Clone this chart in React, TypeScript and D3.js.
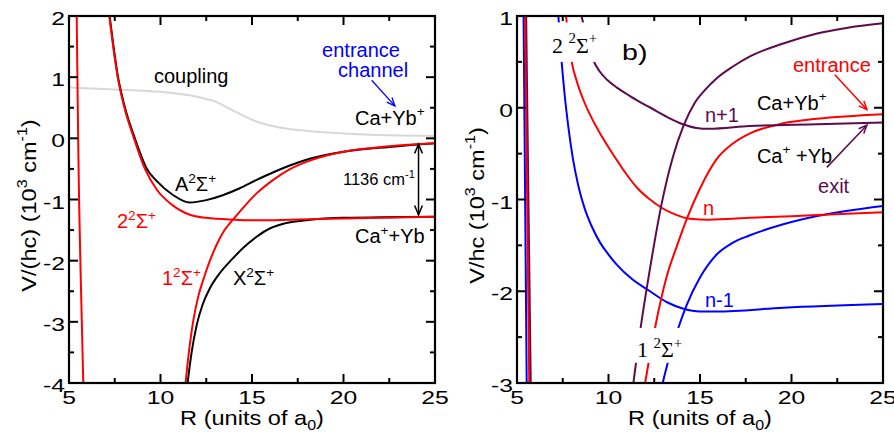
import React from 'react';
import * as d3 from 'd3';

// ---------- data (R in a0, V in 10^3 cm^-1) ----------
const xTicksMajor = [5, 10, 15, 20, 25];
const xTicksMinor = [7.5, 12.5, 17.5, 22.5];
const leftYTicks = [-4, -3, -2, -1, 0, 1, 2];
const rightYTicks = [-3, -2, -1, 0, 1];

// left panel
const aR = [7.22, 7.68, 8.06, 8.6, 9.26, 9.8, 10.7, 11.6, 12.5, 13.4, 14.3, 15.25, 16.2, 17.1, 18.2, 20, 22.5, 25];
const aV = [2, 1, 0.5, 0, -0.5, -0.7, -0.93, -1.05, -1.01, -0.93, -0.82, -0.68, -0.55, -0.44, -0.33, -0.22, -0.14, -0.08];
const s2R = [7.2, 7.66, 8.03, 8.55, 9.15, 9.8, 10.6, 11.6, 12.5, 14, 15.5, 17.1, 20, 25];
const s2V = [2, 1, 0.5, 0, -0.5, -0.84, -1.08, -1.25, -1.3, -1.33, -1.34, -1.33, -1.31, -1.28];
const s1R = [11.37, 11.55, 11.78, 12.05, 12.35, 12.7, 13.1, 13.5, 13.96, 14.5, 15.25, 16.2, 17.1, 18.2, 20, 22.5, 25];
const s1V = [-4.0, -3.5, -3.0, -2.6, -2.3, -2.0, -1.72, -1.5, -1.33, -1.14, -0.9, -0.67, -0.5, -0.36, -0.22, -0.13, -0.08];
const xsR = [11.48, 11.7, 11.98, 12.3, 12.7, 13.2, 13.9, 14.6, 15.25, 16.0, 16.8, 18.2, 20, 25];
const xsV = [-4.0, -3.5, -3.05, -2.72, -2.45, -2.22, -1.98, -1.77, -1.61, -1.47, -1.39, -1.33, -1.3, -1.28];
const wallR = [5.42, 5.5, 5.55, 5.62, 5.7, 5.78];
const wallV = [2, 0, -1, -2, -3, -4];
const coupR = [5, 7.5, 10, 12, 13, 14, 15.2, 16.3, 17.4, 20, 22.5, 25];
const coupV = [0.83, 0.8, 0.76, 0.68, 0.6, 0.45, 0.28, 0.19, 0.14, 0.08, 0.05, 0.04];

// right panel
const pDownR = [8.53, 8.7, 8.9, 9.15, 9.5, 9.95, 10.46, 11.0, 11.56, 12.3, 13.2, 14.07, 14.8, 15.5, 17.7, 21.4, 25];
const pDownV = [1.0, 0.85, 0.7, 0.53, 0.4, 0.3, 0.22, 0.15, 0.08, 0.0, -0.1, -0.18, -0.22, -0.23, -0.2, -0.18, -0.16];
const pUpR = [11.36, 11.72, 12.27, 12.9, 13.5, 14.09, 14.7, 15.3, 15.9, 16.8, 17.73, 19.55, 21.4, 23, 25];
const pUpV = [-3.0, -2.45, -1.75, -1.05, -0.55, -0.2, 0.05, 0.2, 0.32, 0.45, 0.56, 0.7, 0.81, 0.87, 0.92];
const rDownR = [7.68, 7.85, 7.99, 8.25, 8.62, 9.05, 9.54, 10.0, 10.45, 11.0, 11.6, 12.2, 12.9, 13.6, 14.45, 15.5, 17.73, 21.4, 25];
const rDownV = [1.0, 0.7, 0.5, 0.3, 0.09, -0.1, -0.28, -0.43, -0.57, -0.73, -0.88, -0.99, -1.09, -1.16, -1.21, -1.22, -1.2, -1.17, -1.14];
const rUpR = [12.0, 12.54, 13.18, 13.75, 14.3, 15.0, 15.91, 16.8, 17.73, 19.55, 21.4, 25];
const rUpV = [-3.0, -2.4, -1.84, -1.5, -1.2, -0.88, -0.56, -0.39, -0.28, -0.17, -0.12, -0.07];
const bDownR = [7.26, 7.44, 7.6, 7.8, 8.05, 8.35, 8.7, 9.1, 9.54, 10.0, 10.45, 11.3, 12.27, 13.2, 14.09, 15.0, 15.9, 19.55, 25];
const bDownV = [1.0, 0.5, 0.15, -0.2, -0.55, -0.85, -1.1, -1.3, -1.47, -1.6, -1.71, -1.87, -2.0, -2.12, -2.19, -2.22, -2.22, -2.18, -2.14];
const bUpR = [12.96, 13.24, 13.78, 14.27, 15.0, 15.91, 16.8, 17.73, 19.55, 21.4, 25];
const bUpV = [-3.0, -2.78, -2.42, -2.15, -1.85, -1.6, -1.47, -1.39, -1.27, -1.18, -1.07];
const bWallR = [5.36, 5.53];
const rWallR = [5.44, 5.67];
const pWallR = [5.5, 5.75];
const wallRV = [1, -3];

const RED = '#ff0000';
const BLUE = '#0000ff';
const PURPLE = '#5c0c4e';
const GRAY = '#d8d8d8';
const SANS = '"Liberation Sans", Arial, sans-serif';
const SERIF = '"Liberation Serif", "Times New Roman", serif';

type Part = [string, '' | 'sup' | 'sub'];

function Txt({ x, y, parts, fill = '#000', size = 20, family = SANS, anchor = 'start', rotate = 0, sx = 1 }: any) {
  const supSize = size * 0.68;
  const nodes: any[] = [];
  let state = '';
  const off = (k: string) => (k === 'sup' ? -size * 0.42 : k === 'sub' ? size * 0.25 : 0);
  parts.forEach((p: Part, i: number) => {
    const [t, k] = p;
    const dy = off(k) - off(state);
    state = k;
    nodes.push(
      <tspan key={i} dy={dy} fontSize={k ? supSize : size}>{t}</tspan>
    );
  });
  return (
    <text x={0} y={0} fill={fill} fontFamily={family} fontSize={size} textAnchor={anchor}
      transform={`translate(${x},${y}) rotate(${rotate}) scale(${sx},1)`}>
      {nodes}
    </text>
  );
}

function Arrow({ x1, y1, x2, y2, color, double = false, len = 10, width = 1.5 }: any) {
  const head = (xa: number, ya: number, xb: number, yb: number) => {
    const ang = Math.atan2(yb - ya, xb - xa);
    const a1 = ang + Math.PI - 0.4;
    const a2 = ang + Math.PI + 0.4;
    return `M${xb + len * Math.cos(a1)},${yb + len * Math.sin(a1)}L${xb},${yb}L${xb + len * Math.cos(a2)},${yb + len * Math.sin(a2)}`;
  };
  return (
    <g stroke={color} strokeWidth={width} fill="none">
      <line x1={x1} y1={y1} x2={x2} y2={y2} />
      <path d={head(x1, y1, x2, y2)} />
      {double && <path d={head(x2, y2, x1, y1)} />}
    </g>
  );
}

function Frame({ x, y, yTicks, yMinor, yTitle }: any) {
  const [x0, x1] = x.range();
  const [y1, y0] = y.range();
  const maj = 9, mnr = 5;
  return (
    <g>
      <rect x={x0} y={y0} width={x1 - x0} height={y1 - y0} fill="none" stroke="#000" strokeWidth={2.2} />
      <g stroke="#000" strokeWidth={2}>
        {xTicksMajor.map((t) => (
          <g key={'xm' + t}>
            <line x1={x(t)} x2={x(t)} y1={y1} y2={y1 - maj} />
            <line x1={x(t)} x2={x(t)} y1={y0} y2={y0 + maj} />
          </g>
        ))}
        {xTicksMinor.map((t) => (
          <g key={'xn' + t}>
            <line x1={x(t)} x2={x(t)} y1={y1} y2={y1 - mnr} />
            <line x1={x(t)} x2={x(t)} y1={y0} y2={y0 + mnr} />
          </g>
        ))}
        {yTicks.map((t: number) => (
          <g key={'ym' + t}>
            <line x1={x0} x2={x0 + maj} y1={y(t)} y2={y(t)} />
            <line x1={x1} x2={x1 - maj} y1={y(t)} y2={y(t)} />
          </g>
        ))}
        {yMinor.map((t: number) => (
          <g key={'yn' + t}>
            <line x1={x0} x2={x0 + mnr} y1={y(t)} y2={y(t)} />
            <line x1={x1} x2={x1 - mnr} y1={y(t)} y2={y(t)} />
          </g>
        ))}
      </g>
      {xTicksMajor.map((t) => (
        <Txt key={'xl' + t} x={x(t)} y={y1 + 20.5} anchor="middle" size={19} sx={1.3} parts={[[String(t), '']]} />
      ))}
      {yTicks.map((t: number) => (
        <Txt key={'yl' + t} x={x0 - 4} y={y(t) + 9} anchor="end" size={19} sx={1.3} parts={[[String(t), '']]} />
      ))}
      <Txt x={(x0 + x1) / 2} y={y1 + 42} anchor="middle" size={20.5} sx={1.15}
        parts={[['R (units of a', ''], ['0', 'sub'], [')', '']]} />
      <Txt x={x0 - 33} y={(y0 + y1) / 2 + 6} anchor="middle" size={20.5} sx={1.15} rotate={-90}
        parts={yTitle} />
    </g>
  );
}

export default function App() {
  const xL = d3.scaleLinear().domain([5, 25]).range([69, 435]);
  const yL = d3.scaleLinear().domain([-4, 2]).range([383, 16]);
  const xR = d3.scaleLinear().domain([5, 25]).range([517, 883]);
  const yR = d3.scaleLinear().domain([-3, 1]).range([383, 16]);

  const mk = (xs: any, ys: any) => (R: number[], V: number[]) =>
    d3.line<number>().x((i) => xs(R[i])).y((i) => ys(V[i])).curve(d3.curveMonotoneX)(R.map((_, i) => i)) || '';
  const lineL = mk(xL, yL);
  const lineR = mk(xR, yR);

  const leftMinor = d3.range(-3.5, 2, 1);
  const rightMinor = d3.range(-2.5, 1, 1);

  const sw = 2;
  return (
    <svg width={894} height={434} style={{ position: 'absolute', left: 0, top: 0, background: '#fff' }}>
      <defs>
        <clipPath id="cl"><rect x={69} y={16} width={366} height={367} /></clipPath>
        <clipPath id="cr"><rect x={517} y={16} width={366} height={367} /></clipPath>
      </defs>
      <rect x={0} y={0} width={894} height={434} fill="#fff" />

      {/* ---------- left panel ---------- */}
      <g clipPath="url(#cl)" fill="none" strokeWidth={sw}>
        <path d={lineL(coupR, coupV)} stroke={GRAY} />
        <path d={lineL(wallR, wallV)} stroke={RED} />
        <path d={lineL(aR, aV)} stroke="#000" />
        <path d={lineL(xsR, xsV)} stroke="#000" />
        <path d={lineL(s2R, s2V)} stroke={RED} />
        <path d={lineL(s1R, s1V)} stroke={RED} />
      </g>
      <Arrow x1={xL(24.1)} y1={yL(-0.095)} x2={xL(24.1)} y2={yL(-1.25)} color="#000" double len={10} />
      <Arrow x1={xL(21.54)} y1={yL(0.95)} x2={xL(22.81)} y2={yL(0.53)} color={BLUE} len={9} width={1.3} />
      <Txt x={xL(9.64)} y={yL(0.9)} parts={[['coupling', '']]} />
      <Txt x={xL(18.83)} y={yL(1.33)} fill={BLUE} parts={[['entrance', '']]} />
      <Txt x={xL(19.7)} y={yL(1.0)} fill={BLUE} parts={[['channel', '']]} />
      <Txt x={xL(20.63)} y={yL(0.22)} parts={[['Ca+Yb', ''], ['+', 'sup']]} />
      <Txt x={xL(19.97)} y={yL(-0.76)} size={16.5} parts={[['1136 cm', ''], ['-1', 'sup']]} />
      <Txt x={xL(20.63)} y={yL(-1.71)} parts={[['Ca', ''], ['+', 'sup'], ['+Yb', '']]} />
      <Txt x={xL(10.79)} y={yL(-0.86)} parts={[['A', ''], ['2', 'sup'], ['Σ', ''], ['+', 'sup']]} />
      <Txt x={xL(7.62)} y={yL(-1.47)} fill={RED} parts={[['2', ''], ['2', 'sup'], ['Σ', ''], ['+', 'sup']]} />
      <Txt x={xL(10.08)} y={yL(-2.4)} fill={RED} parts={[['1', ''], ['2', 'sup'], ['Σ', ''], ['+', 'sup']]} />
      <Txt x={xL(13.96)} y={yL(-2.4)} parts={[['X', ''], ['2', 'sup'], ['Σ', ''], ['+', 'sup']]} />
      <Frame x={xL} y={yL} yTicks={leftYTicks} yMinor={leftMinor}
        yTitle={[['V/(hc)  (10', ''], ['3', 'sup'], [' cm', ''], ['-1', 'sup'], [')', '']]} />

      {/* ---------- right panel ---------- */}
      <g clipPath="url(#cr)" fill="none" strokeWidth={sw}>
        <path d={lineR(bWallR, wallRV)} stroke={BLUE} />
        <path d={lineR(pWallR, wallRV)} stroke={PURPLE} />
        <path d={lineR(rWallR, wallRV)} stroke={RED} />
        <path d={lineR(bDownR, bDownV)} stroke={BLUE} />
        <path d={lineR(bUpR, bUpV)} stroke={BLUE} />
        <path d={lineR(rDownR, rDownV)} stroke={RED} />
        <path d={lineR(rUpR, rUpV)} stroke={RED} />
        <path d={lineR(pDownR, pDownV)} stroke={PURPLE} />
        <path d={lineR(pUpR, pUpV)} stroke={PURPLE} />
      </g>
      <rect x={xR(6.69)} y={yR(0.93)} width={xR(9.54) - xR(6.69)} height={yR(0.5) - yR(0.93)} fill="#fff" />
      <rect x={xR(11.17)} y={yR(-2.4)} width={xR(14.45) - xR(11.17)} height={yR(-2.78) - yR(-2.4)} fill="#fff" />
      <Txt x={xR(6.91)} y={yR(0.6)} family={SERIF} size={22} parts={[['2 ', ''], ['2', 'sup'], ['Σ', ''], ['+', 'sup']]} />
      <Txt x={xR(11.56)} y={yR(-2.72)} family={SERIF} size={22} parts={[['1 ', ''], ['2', 'sup'], ['Σ', ''], ['+', 'sup']]} />
      <Txt x={xR(10.74)} y={yR(0.52)} size={22} sx={1.3} parts={[['b)', '']]} />
      <Txt x={xR(15.27)} y={yR(-0.15)} fill={PURPLE} parts={[['n+1', '']]} />
      <Txt x={xR(18.11)} y={yR(-0.02)} parts={[['Ca+Yb', ''], ['+', 'sup']]} />
      <Txt x={xR(20.08)} y={yR(0.39)} fill={RED} parts={[['entrance', '']]} />
      <Txt x={xR(18.11)} y={yR(-0.6)} parts={[['Ca', ''], ['+', 'sup'], [' +Yb', '']]} />
      <Txt x={xR(21.45)} y={yR(-0.93)} fill={PURPLE} parts={[['exit', '']]} />
      <Txt x={xR(15.16)} y={yR(-1.17)} fill={RED} parts={[['n', '']]} />
      <Txt x={xR(15.27)} y={yR(-2.17)} fill={BLUE} parts={[['n-1', '']]} />
      <Arrow x1={xR(22.37)} y1={yR(0.36)} x2={xR(24.12)} y2={yR(-0.02)} color={RED} len={9} />
      <Arrow x1={xR(21.93)} y1={yR(-0.65)} x2={xR(24.12)} y2={yR(-0.19)} color={PURPLE} len={9} />
      <Frame x={xR} y={yR} yTicks={rightYTicks} yMinor={rightMinor}
        yTitle={[['V/hc (10', ''], ['3', 'sup'], [' cm', ''], ['-1', 'sup'], [')', '']]} />
    </svg>
  );
}
